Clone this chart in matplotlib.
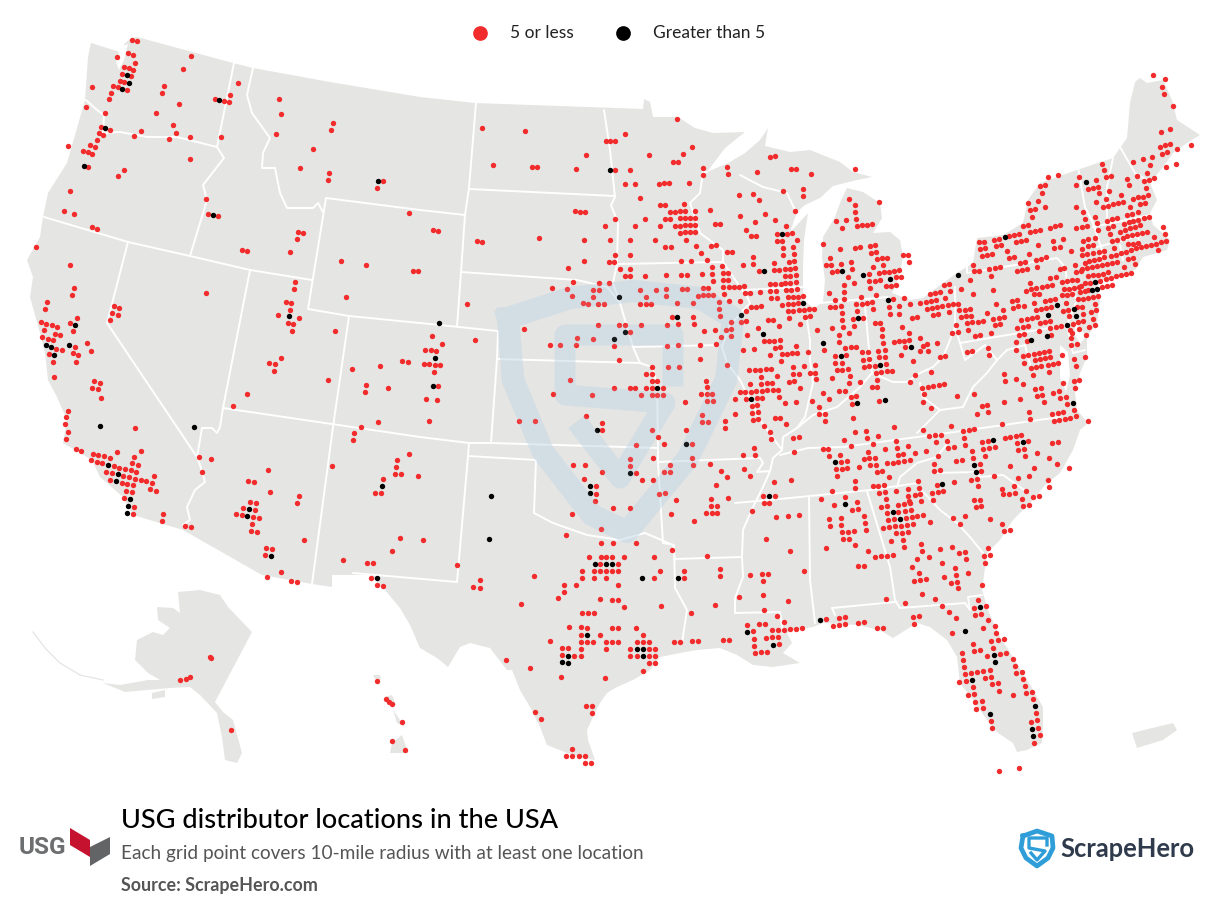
import matplotlib
matplotlib.use('Agg')
import matplotlib.pyplot as plt
from matplotlib.patches import Polygon

RED = '#f22c2c'
BLACK = '#000000'
LAND = '#e5e5e3'
FONT = 'Lato'

NW_ORIGIN = (20, 30)
NW_RED = [(337,31),(352,34),(292,82),(325,70),(340,76),(346,100),(313,112),(328,115),(340,121),(307,133),(334,139),(301,154),(313,157),(280,169),(295,172),(322,181),(274,190),(268,208),(217,172),(199,232),(256,250),(514,79),(490,118),(433,169),(427,190),(478,223),(409,250),(655,160),(631,196),(586,208),(613,214),(628,217),(778,208),(784,253),(940,280),(934,301),(769,313),(880,358),(841,415),(928,430),(925,451),(1090,454),(1072,475),(1168,550),(460,286),(469,310),(448,328),(511,322),(604,322),(364,304),(343,319),(271,301),(244,292),(238,310),(250,316),(232,331),(211,346),(226,352),(145,349),(190,364),(205,367),(217,373),(205,412),(313,421),(295,439),(511,388),(151,484),(133,544),(163,553),(217,592),(232,598),(559,508),(565,553),(595,559),(835,607),(850,610),(832,628),(667,661),(682,664),(811,667),(49,652),(151,706),(964,694),(1039,706),(1180,724),(1195,724),(826,757),(823,778),(163,775),(157,796),(559,790),(979,802)]
NW_BLACK = [(322,136),(328,160),(307,178),(598,211),(256,295),(193,409),(580,556),(1075,454)]

SW_ORIGIN = (20, 300)
SW_RED = [(82,7),(76,28),(799,7),(814,10),(283,19),(298,25),(277,40),(295,46),(271,61),(811,31),(775,46),(838,55),(805,70),(820,73),(817,94),(946,94),(64,67),(79,73),(97,76),(112,82),(73,91),(172,55),(151,70),(160,94),(106,103),(121,106),(67,112),(85,118),(100,121),(109,148),(127,151),(88,163),(100,187),(103,232),(202,130),(214,154),(166,142),(160,160),(175,166),(169,187),(223,244),(241,250),(217,265),(235,268),(244,295),(145,334),(139,352),(136,373),(145,397),(139,418),(346,385),(169,448),(184,454),(292,457),(364,454),(220,463),(235,466),(253,469),(271,475),(343,472),(214,481),(232,487),(247,490),(337,490),(355,496),(283,499),(298,505),(316,508),(334,511),(259,517),(277,520),(349,517),(310,529),(328,532),(271,541),(346,538),(364,541),(379,544),(403,529),(307,550),(322,553),(340,556),(397,550),(319,574),(337,577),(391,568),(409,574),(313,595),(343,622),(340,643),(430,643),(427,664),(538,472),(574,478),(547,517),(496,679),(514,682),(748,190),(766,193),(784,175),(763,214),(682,283),(640,319),(925,241),(997,208),(1081,199),(1147,184),(1165,187),(1039,256),(1036,277),(1105,265),(1075,367),(1024,382),(1003,400),(1000,421),(937,499),(1132,481),(1129,502),(1126,523),(1144,523),(1168,463),(1195,529),(1090,538),(1066,580),(1084,580),(745,511),(685,544),(703,547),(751,577),(838,589),(832,610),(691,607),(709,610),(670,625),(706,631),(649,643),(667,646),(700,652),(718,655),(697,673),(694,694),(712,697),(853,721),(739,745),(757,748),(736,766),(784,817),(742,832),(814,844),(832,847),(1141,715),(1117,754),(970,781),(1042,790),(1060,790),(1054,835),(1072,856),(1090,859)]
SW_BLACK = [(166,76),(79,136),(94,142),(148,136),(103,166),(241,379),(523,382),(265,496),(295,523),(289,544),(331,598),(325,619),(322,640),(808,49),(688,628),(682,649),(754,769),(1087,559),(1072,835)]

MIDWEST_ORIGIN = (420, 90)
MIDWEST_RED = [(772,88),(187,115),(316,124),(616,133),(559,154),(571,154),(586,154),(817,172),(499,196),(688,196),(790,193),(760,217),(775,217),(1051,202),(1066,199),(220,226),(337,232),(352,232),(469,238),(586,241),(631,241),(850,235),(922,232),(850,256),(925,253),(1012,247),(1114,238),(1129,238),(1174,253),(616,283),(646,283),(718,283),(733,280),(748,280),(808,280),(1090,304),(1150,298),(1150,319),(958,316),(1000,313),(1018,331),(661,325),(721,346),(736,346),(793,343),(871,361),(751,367),(766,367),(781,364),(796,364),(826,364),(466,364),(481,367),(496,367),(1126,364),(961,379),(1036,373),(586,388),(676,388),(736,388),(751,388),(781,385),(796,385),(811,385),(826,385),(1066,391),(1006,397),(886,403),(901,403),(556,409),(646,409),(721,409),(766,409),(781,409),(796,406),(811,406),(826,406),(1099,409),(979,421),(40,421),(55,424),(781,430),(796,427),(811,427),(826,427),(1072,433),(1102,433),(1117,430),(994,439),(1009,439),(358,445),(172,454),(187,457),(493,451),(571,451),(631,451),(706,451),(799,451),(1072,454),(1087,454),(1132,451),(829,469),(874,469),(889,466),(736,472),(754,472),(1090,475),(1120,472),(844,490),(922,487),(937,487),(586,496),(631,496),(1090,496),(1123,493),(1000,502),(493,514),(568,517),(583,517),(784,514),(814,514),(862,511),(1108,517),(1123,514),(1000,523),(970,526),(1063,520),(877,532),(907,529),(445,535),(601,538),(631,538),(1018,544),(1063,541),(1078,541),(1096,538),(1111,538),(1126,535),(616,559),(631,559),(676,559),(739,556),(784,556),(802,556),(847,553),(877,553),(910,550),(925,550),(1096,559),(1111,559),(1129,556),(880,574),(910,571),(925,571),(1096,580),(1111,580),(1129,577),(460,577),(538,580),(568,580),(1051,583),(1066,583),(1084,583),(397,595),(442,598),(520,601),(538,601),(661,601),(709,601),(739,598),(787,598),(802,598),(850,595),(865,595),(910,592),(928,592),(943,592),(958,592),(973,589),(1099,601),(1114,601),(1132,598),(1051,604),(1069,604),(913,613),(976,610),(991,610),(1021,607),(457,619),(520,622),(679,622),(739,619),(835,619),(850,616),(865,616),(880,616),(1054,625),(1072,625),(1105,622),(1120,622),(1135,622),(1150,619),(490,640),(505,643),(535,643),(553,643),(661,643),(679,643),(694,643),(772,640),(820,640),(898,637),(928,634),(961,634),(1105,643),(1120,643),(1135,640),(1087,646),(994,652),(1009,652),(1024,649),(142,643),(898,658),(1105,664),(1120,664),(1138,661),(1153,661),(1168,658),(1183,658),(757,682),(820,682),(901,679),(979,664),(1156,682),(1171,679),(1108,685),(1045,691),(1060,691),(979,694),(964,697),(934,697),(775,703),(823,703),(535,706),(598,706),(616,706),(664,706),(742,706),(1078,709),(1141,703),(1015,715),(919,721),(934,718),(853,724),(886,721),(313,718),(631,727),(166,751),(472,745),(520,748),(904,742),(934,739),(982,736),(1033,754),(1048,754),(1063,754),(1081,751),(67,763),(37,739),(16,781),(34,781),(49,784),(391,766),(421,766),(469,766),(583,769),(742,769),(775,766),(841,766),(889,763),(1129,769),(970,781),(1003,778),(1066,775),(1081,772),(1051,796),(1087,793),(1102,793),(1117,790),(1132,790),(1165,787),(598,811),(841,808),(1084,814),(13,823),(28,823),(46,826),(61,826),(922,826),(697,832),(745,832),(778,832),(1120,832),(1153,829),(988,841),(1006,841),(1021,841),(1039,838),(1054,838),(43,847),(679,853),(697,853),(1120,853),(1138,853),(1171,850),(1024,862),(1072,859)]
MIDWEST_BLACK = [(571,241),(1087,433),(1033,544),(598,622),(1150,640),(772,682),(964,676),(1030,733),(616,727),(583,748),(58,700),(46,805)]

SOUTH_ORIGIN = (420, 380)
SOUTH_RED = [(451,1),(859,3),(862,22),(991,13),(1024,13),(1042,10),(1057,10),(1108,7),(1123,4),(1141,25),(583,25),(631,25),(646,25),(679,25),(697,25),(730,25),(697,4),(712,4),(55,19),(400,43),(517,46),(664,46),(697,46),(712,46),(730,46),(844,43),(862,43),(877,43),(961,37),(976,37),(994,37),(1009,34),(1027,34),(1042,31),(1060,31),(1075,31),(19,58),(52,61),(979,58),(1012,55),(1027,55),(1078,52),(862,64),(880,64),(946,58),(796,67),(1096,70),(1129,67),(1177,64),(997,79),(1012,76),(997,100),(1015,97),(946,103),(847,106),(499,109),(1066,115),(1081,115),(1000,121),(1015,118),(28,124),(298,124),(346,124),(847,127),(865,127),(916,124),(547,130),(1099,133),(1033,139),(916,145),(547,151),(697,151),(799,151),(1051,157),(715,172),(1054,178),(1120,175),(1138,172),(649,196),(733,193),(817,193),(1003,205),(1123,217),(970,226),(1006,226),(631,238),(700,235),(817,235),(631,259),(460,256),(496,256),(751,256),(820,256),(871,253),(547,277),(649,280),(733,277),(751,277),(904,274),(973,268),(991,289),(922,292),(493,298),(667,301),(700,301),(1063,307),(1114,301),(889,316),(529,319),(529,343),(718,343),(736,340),(1030,349),(1066,349),(874,358),(925,355),(769,361),(526,364),(1033,370),(1048,370),(874,379),(892,379),(580,385),(631,385),(859,400),(877,400),(892,400),(997,394),(457,403),(754,403),(1069,412),(1105,409),(1138,406),(823,424),(544,448),(439,466),(1039,478),(544,490),(580,490),(649,490),(757,511),(1111,514),(508,532),(544,532),(559,532),(577,532),(613,532),(703,532),(862,529),(541,553),(595,553),(487,574),(523,574),(541,574),(559,574),(577,574),(595,574),(721,574),(793,574),(901,568),(1153,574),(343,589),(487,595),(523,595),(559,595),(703,595),(793,595),(901,589),(991,586),(1027,583),(1045,583),(1030,604),(181,601),(160,622),(181,625),(433,616),(469,616),(595,616),(433,637),(1030,646),(415,655),(958,652),(541,658),(577,661),(595,661),(1105,664),(304,673),(613,682),(724,679),(886,676),(1033,691),(487,700),(505,700),(523,700),(814,700),(1072,709),(1093,727),(982,736),(1018,733),(1036,733),(448,742),(484,742),(502,745),(577,745),(595,745),(649,745),(1000,754),(1057,751),(1075,751),(1093,751),(1111,748),(1129,748),(1147,745),(484,766),(541,766),(670,766),(1057,772),(1075,772),(1039,775),(1003,778),(391,784),(484,787),(502,787),(520,787),(559,787),(577,787),(595,787),(652,787),(670,787),(688,787),(763,787),(781,787),(817,784),(835,784),(910,781),(928,781),(1078,793),(1003,799),(427,805),(445,805),(484,808),(559,808),(631,808),(688,808),(706,808),(1006,820),(1024,817),(1042,817),(427,826),(463,829),(484,829),(631,829),(652,829),(688,829),(706,829),(259,841),(688,850),(706,850),(331,865),(670,874),(424,892),(556,895),(10,481),(112,556)]
SOUTH_BLACK = [(40,19),(712,25),(532,151),(799,193),(631,280),(511,319),(511,340),(214,349),(208,478),(1048,349),(526,553),(559,553),(577,553),(667,595),(775,595),(982,757),(1060,796),(502,766),(652,808),(670,808),(670,829),(445,829),(427,847),(445,850),(994,58)]

NORTHEAST_ORIGIN = (810, 60)
NORTHEAST_RED = [(1030,46),(1066,58),(1057,82),(1063,103),(1090,139),(1054,217),(1081,208),(1051,262),(1066,256),(1081,253),(1102,268),(1144,256),(1057,283),(1072,277),(970,307),(1000,298),(1027,292),(1021,316),(1099,313),(1069,322),(1012,340),(982,349),(1033,355),(1018,361),(1003,364),(952,358),(958,376),(1009,385),(136,328),(877,313),(883,331),(808,352),(889,352),(904,349),(859,361),(715,352),(745,346),(799,376),(691,379),(706,376),(835,388),(850,385),(865,382),(697,400),(898,394),(868,400),(934,406),(1015,406),(1000,412),(985,412),(970,418),(889,418),(859,427),(940,427),(925,430),(910,433),(895,439),(880,442),(655,430),(685,424),(706,442),(661,451),(676,448),(799,442),(1006,430),(991,433),(961,442),(820,457),(667,472),(118,418),(136,436),(208,427),(136,457),(139,478),(79,484),(109,481),(97,505),(142,499),(157,496),(172,496),(187,493),(1018,472),(1003,475),(985,457),(967,463),(952,466),(922,475),(907,478),(892,484),(856,472),(985,481),(970,484),(958,487),(943,493),(991,496),(976,502),(961,505),(946,511),(931,517),(910,499),(895,505),(862,490),(826,478),(799,505),(817,502),(832,499),(865,511),(901,523),(1060,502),(1066,523),(1012,517),(997,520),(982,523),(967,526),(952,529),(1033,532),(940,535),(922,541),(907,544),(1069,544),(1054,547),(1039,553),(1024,556),(1009,559),(994,562),(979,565),(1045,571),(985,550),(970,553),(955,553),(856,535),(835,538),(820,544),(850,556),(835,559),(817,568),(913,565),(883,574),(868,577),(850,580),(832,583),(817,586),(964,571),(949,577),(934,580),(919,586),(904,589),(970,595),(955,598),(976,613),(943,622),(964,640),(949,643),(934,646),(919,649),(904,655),(889,658),(871,664),(826,610),(838,604),(853,601),(868,598),(883,592),(907,610),(922,607),(892,613),(877,616),(862,619),(847,622),(832,625),(817,628),(835,649),(850,646),(865,646),(880,643),(895,637),(826,670),(841,670),(813,679),(826,694),(811,697),(835,691),(907,676),(892,679),(877,682),(820,718),(835,715),(850,712),(865,709),(655,496),(640,499),(721,505),(736,499),(751,496),(661,517),(676,514),(691,511),(628,523),(613,526),(598,529),(568,538),(553,541),(508,547),(523,547),(619,547),(634,544),(649,541),(730,544),(760,538),(511,568),(526,565),(559,559),(574,556),(685,556),(733,565),(751,562),(592,574),(784,574),(517,589),(532,586),(547,583),(658,583),(598,595),(613,592),(694,598),(679,601),(709,592),(490,616),(631,610),(646,607),(796,616),(682,622),(538,628),(556,625),(571,622),(751,628),(763,625),(493,634),(508,634),(622,634),(637,631),(652,628),(799,637),(814,634),(544,649),(481,661),(721,655),(739,652),(661,670),(757,667),(772,664),(787,661),(802,661),(40,553),(91,568),(136,565),(151,562),(181,559),(196,556),(184,580),(199,577),(61,595),(202,598),(217,595),(232,595),(280,586),(295,586),(49,616),(64,616),(94,613),(124,607),(220,616),(298,607),(127,628),(190,622),(67,637),(82,634),(208,640),(223,637),(238,637),(253,634),(268,631),(178,643),(115,652),(259,652),(274,652),(211,661),(196,664),(178,664),(133,670),(103,676),(229,679),(244,679),(259,676),(181,685),(103,697),(58,700),(199,706),(103,718),(76,721),(154,712),(139,733),(157,733),(172,730),(187,727),(250,718),(283,715),(61,742),(76,742),(94,739),(301,733),(331,730),(349,727),(364,724),(379,721),(361,703),(376,700),(391,697),(403,676),(418,673),(421,694),(406,715),(352,748),(367,745),(382,742),(397,739),(415,736),(430,733),(445,733),(238,742),(268,739),(190,748),(142,754),(241,763),(268,763),(418,757),(448,751),(466,751),(481,748),(370,766),(385,763),(307,775),(322,772),(97,760),(454,772),(469,769),(484,769),(130,778),(160,775),(97,781),(472,790),(487,787),(505,787),(520,784),(532,760),(580,751),(550,778),(568,775),(583,772),(439,796),(196,790),(211,790),(100,802),(133,799),(67,805),(22,811),(217,808),(277,802),(475,811),(559,733),(556,796),(571,793),(118,820),(298,820),(88,826),(217,829),(496,829),(511,826),(544,820),(427,820),(445,817),(88,847),(220,850),(253,847),(268,844),(283,844),(298,841),(331,835),(352,853),(382,850),(454,688),(490,703),(550,691),(649,694),(664,688),(679,685),(697,682),(712,679),(727,676),(763,688),(778,688),(793,685),(808,682),(673,703),(688,703),(673,730),(607,724),(622,721),(610,745),(625,739),(643,739),(679,751),(694,748),(709,745),(724,742),(706,724),(721,721),(736,718),(757,706),(772,706),(787,703),(769,730),(805,718),(817,742),(802,742),(856,733),(775,751),(760,754),(778,769),(820,763),(859,751),(844,757),(634,781),(652,778),(667,775),(682,772),(691,790),(706,787),(721,784),(655,799),(640,802),(622,805),(688,814),(721,805),(739,802),(754,799),(805,787),(820,784),(850,778),(856,796),(838,802),(808,808),(790,793),(781,811),(787,820),(829,826),(628,826),(643,823),(724,826),(784,835),(619,847),(652,844)]
NORTHEAST_BLACK = [(584,532),(829,367),(97,634),(160,646),(241,658),(445,646),(235,721),(145,775),(856,667),(847,691),(862,688),(742,736),(793,748),(715,766),(799,769),(772,796),(712,829),(664,841),(40,850)]

SOUTHEAST_ORIGIN = (780, 340)
SOUTHEAST_RED = [(133,31),(196,25),(214,22),(229,22),(166,49),(199,46),(247,37),(265,37),(295,34),(316,31),(376,22),(430,19),(445,34),(421,34),(364,46),(298,52),(316,52),(250,61),(268,58),(166,70),(187,70),(319,73),(400,64),(106,76),(253,82),(268,79),(286,79),(172,91),(187,91),(205,88),(289,100),(304,97),(322,94),(337,94),(106,100),(211,109),(157,115),(109,118),(406,106),(292,121),(208,130),(241,127),(391,127),(454,97),(481,52),(496,49),(562,37),(577,34),(628,46),(625,25),(709,31),(730,49),(745,46),(763,43),(778,40),(793,37),(808,34),(766,61),(781,58),(796,55),(811,52),(733,70),(754,85),(769,82),(784,79),(805,76),(820,73),(835,70),(847,46),(760,106),(808,97),(874,16),(892,13),(883,58),(916,52),(889,79),(673,103),(676,124),(709,118),(730,133),(850,130),(883,124),(898,121),(277,142),(292,142),(178,154),(196,154),(130,160),(427,145),(445,142),(460,139),(478,136),(493,133),(766,148),(784,145),(838,154),(820,160),(886,145),(214,172),(229,169),(148,178),(532,169),(583,163),(772,169),(787,166),(841,175),(859,172),(433,163),(430,187),(298,184),(721,178),(673,187),(793,187),(862,193),(217,193),(118,202),(607,199),(622,196),(454,205),(883,211),(592,223),(625,217),(748,217),(817,223),(835,220),(850,217),(889,229),(118,223),(136,223),(220,235),(751,238),(823,244),(838,241),(856,238),(871,235),(136,244),(925,244),(667,253),(343,262),(514,259),(430,271),(226,277),(259,274),(550,274),(568,271),(583,268),(448,289),(466,286),(484,286),(262,295),(295,289),(553,295),(676,295),(691,292),(709,289),(724,286),(193,301),(349,304),(607,307),(625,304),(745,304),(469,307),(502,304),(835,307),(817,310),(214,319),(280,313),(556,316),(712,310),(385,319),(352,325),(505,325),(523,322),(610,328),(628,325),(646,322),(715,331),(733,328),(130,328),(145,328),(316,328),(265,337),(439,334),(577,334),(406,340),(355,346),(370,343),(736,349),(616,349),(772,340),(181,346),(148,349),(268,355),(253,358),(286,355),(475,349),(580,355),(808,355),(202,364),(184,367),(391,361),(373,364),(355,367),(340,370),(322,370),(529,364),(547,361),(271,376),(289,376),(463,373),(601,373),(832,373),(238,382),(169,388),(187,388),(202,385),(691,379),(763,385),(868,385),(463,394),(481,391),(292,397),(307,394),(604,394),(172,409),(328,412),(643,409),(574,421),(592,418),(715,415),(748,409),(805,421),(226,424),(415,424),(523,427),(472,436),(595,439),(280,439),(295,439),(313,436),(226,445),(418,445),(385,448),(667,448),(703,439),(808,442),(157,454),(349,454),(298,460),(316,457),(475,457),(490,454),(457,460),(739,454),(385,469),(406,466),(421,463),(670,463),(688,463),(706,460),(196,472),(124,478),(388,484),(424,484),(460,481),(319,478),(583,481),(601,481),(727,478),(760,472),(778,469),(232,487),(163,496),(322,499),(355,496),(373,493),(391,490),(730,499),(748,496),(589,502),(604,499),(217,511),(235,508),(304,502),(355,517),(376,514),(394,511),(322,520),(253,529),(412,529),(430,526),(556,529),(520,535),(184,535),(148,538),(325,541),(343,538),(379,535),(397,532),(631,538),(451,547),(667,553),(256,550),(184,556),(151,559),(541,553),(328,562),(346,559),(364,559),(382,556),(400,553),(310,565),(259,571),(673,574),(691,571),(187,577),(205,577),(223,574),(349,580),(367,580),(385,577),(190,598),(208,598),(334,604),(370,601),(424,613),(226,616),(139,625),(373,622),(517,622),(481,628),(625,625),(265,634),(427,634),(538,640),(556,637),(613,649),(631,646),(286,652),(304,649),(322,649),(340,646),(448,652),(412,658),(559,658),(487,670),(616,670),(235,679),(253,679),(397,682),(526,685),(418,700),(565,700),(529,706),(493,712),(439,718),(403,724),(421,721),(514,730),(532,727),(607,736),(535,745)]
SOUTHEAST_BLACK = [(184,49),(301,76),(232,190),(316,181),(394,22),(640,301),(730,307),(166,367),(583,376),(589,397),(487,433),(880,190),(196,493),(340,517),(361,538)]

FLORIDA_ORIGIN = (780, 580)
FLORIDA_RED = [(427,43),(466,58),(319,58),(376,70),(595,61),(487,79),(619,79),(583,85),(508,97),(586,106),(604,103),(139,118),(178,115),(196,112),(400,112),(418,109),(529,115),(625,121),(235,130),(253,127),(178,136),(196,133),(160,139),(403,133),(292,145),(310,145),(646,139),(610,145),(517,160),(649,160),(673,178),(655,181),(634,184),(580,193),(640,205),(583,214),(601,211),(547,220),(679,220),(661,223),(622,229),(700,238),(550,241),(706,259),(553,262),(631,271),(610,274),(592,277),(574,280),(556,283),(727,277),(709,280),(634,292),(616,295),(730,298),(538,307),(559,304),(655,310),(637,313),(580,322),(736,319),(658,334),(757,337),(739,340),(565,346),(583,343),(700,346),(760,358),(586,367),(607,364),(589,388),(610,385),(769,400),(634,424),(772,421),(754,427),(637,445),(775,445),(781,466),(763,490),(718,565),(658,574)]
FLORIDA_BLACK = [(601,82),(121,121),(556,154),(643,226),(646,247),(577,301),(766,379),(631,403),(757,448),(760,469)]

OUTLYING_ORIGIN = (20, 580)
OUTLYING_RED = [(571,232),(574,235),(481,301),(499,298),(511,292),(634,451),(1072,304),(1099,358),(1108,367),(1117,373),(1147,427),(1117,484),(1156,511)]

TEXAS_ORIGIN = (420, 670)
TEXAS_RED = [(499,109),(517,109),(517,130),(346,127),(364,148),(457,238),(439,259),(457,259),(478,259),(496,259),(496,280),(514,280)]

RED_BLOCKS = [(NW_ORIGIN, NW_RED), (SW_ORIGIN, SW_RED), (MIDWEST_ORIGIN, MIDWEST_RED),
              (SOUTH_ORIGIN, SOUTH_RED), (NORTHEAST_ORIGIN, NORTHEAST_RED),
              (SOUTHEAST_ORIGIN, SOUTHEAST_RED), (FLORIDA_ORIGIN, FLORIDA_RED),
              (OUTLYING_ORIGIN, OUTLYING_RED), (TEXAS_ORIGIN, TEXAS_RED)]
BLACK_BLOCKS = [(NW_ORIGIN, NW_BLACK), (SW_ORIGIN, SW_BLACK), (MIDWEST_ORIGIN, MIDWEST_BLACK),
                (SOUTH_ORIGIN, SOUTH_BLACK), (NORTHEAST_ORIGIN, NORTHEAST_BLACK),
                (SOUTHEAST_ORIGIN, SOUTHEAST_BLACK), (FLORIDA_ORIGIN, FLORIDA_BLACK)]

# Land shapes in map coordinates
LOWER48 = [(91,43),(120,52),(125,43),(132,38),(137,37),(233,63),(253,68),(330,82),(420,97),(475,103),(643,109),(644,99),(650,102),(653,117),(678,117),(695,128),(713,133),(745,132),(725,148),(707,172),(728,163),(745,153),(760,140),(768,128),(765,146),(790,152),(810,150),(840,162),(853,172),(872,177),(857,180),(833,186),(820,198),(805,205),(797,212),(790,232),(797,225),(808,213),(804,240),(803,265),(803,290),(803,300),(814,308),(823,302),(825,280),(822,257),(823,237),(835,217),(840,203),(847,188),(863,192),(880,203),(882,218),(873,233),(890,232),(900,240),(903,257),(900,273),(895,287),(892,293),(910,300),(923,298),(943,283),(957,273),(973,263),(975,250),(977,238),(1003,235),(1023,223),(1028,200),(1040,183),(1077,170),(1113,158),(1127,138),(1130,103),(1135,82),(1140,78),(1147,83),(1163,80),(1172,100),(1177,120),(1200,135),(1187,143),(1173,153),(1163,167),(1150,183),(1157,200),(1150,213),(1153,225),(1165,235),(1170,240),(1167,250),(1143,257),(1135,270),(1103,280),(1097,287),(1100,300),(1097,323),(1087,337),(1087,357),(1080,373),(1075,392),(1077,410),(1088,423),(1080,430),(1073,450),(1060,473),(1045,485),(1033,500),(1013,520),(1000,540),(987,553),(983,583),(982,590),(988,610),(1000,637),(1013,657),(1027,680),(1043,707),(1043,727),(1042,743),(1027,750),(1017,752),(1013,743),(998,733),(987,720),(973,700),(960,683),(957,657),(947,640),(930,627),(917,623),(893,638),(880,630),(857,625),(823,623),(813,627),(793,630),(787,633),(792,643),(783,653),(800,663),(773,667),(753,665),(737,655),(720,648),(697,650),(680,653),(660,657),(650,670),(633,680),(617,687),(607,693),(600,703),(593,717),(587,730),(588,740),(595,760),(583,758),(567,753),(547,745),(540,727),(530,707),(520,690),(512,670),(507,670),(490,648),(470,643),(460,647),(448,667),(437,658),(420,648),(410,625),(400,608),(385,590),(370,575),(332,575),(332,587),(312,584),(262,575),(183,530),(133,515),(123,497),(100,477),(92,460),(63,443),(67,420),(57,397),(48,380),(45,353),(40,333),(30,297),(33,277),(27,260),(40,237),(43,217),(48,193),(67,163),(85,100),(88,57)]
ALASKA = [(178,592),(200,590),(220,595),(228,607),(252,632),(215,702),(223,712),(233,720),(242,753),(237,763),(225,760),(222,737),(217,713),(200,695),(190,687),(170,688),(147,690),(125,692),(103,683),(120,685),(148,680),(160,680),(148,673),(135,660),(137,640),(153,632),(163,635),(170,628),(158,620),(157,607),(173,608),(180,613)]
KODIAK = [(152,693),(165,690),(165,697),(152,699)]
KAUAI = [(373,675),(380,675),(381,680),(375,679)]
OAHU = [(385,697),(392,695),(396,705),(388,705)]
MAUI = [(393,710),(405,727),(397,723)]
BIG_ISLAND = [(402,735),(408,753),(390,753),(392,743)]
PUERTO_RICO = [(1132,733),(1173,723),(1177,730),(1163,740),(1137,748)]
LAND_SHAPES = [LOWER48, ALASKA, KODIAK, KAUAI, OAHU, MAUI, BIG_ISLAND, PUERTO_RICO]
ALEUTIANS = [(33,632),(45,648),(60,663),(80,675),(103,680)]
CHESAPEAKE = [(1060,345),(1068,352),(1070,375),(1066,392),(1060,378)]
DELAWARE_BAY = [(1075,322),(1086,336),(1080,344),(1075,335)]
PUGET_SOUND = [(120,47),(128,44),(124,60),(119,70),(116,62)]

# State lines in map coordinates
BORDERS = [
    [(86,100),(97,110),(104,115),(103,133),(120,132),(147,137),(177,137),(217,147)],
    [(234,63),(217,147),(224,158),(203,185),(207,200),(190,256)],
    [(44,217),(128,242),(190,256),(250,270),(312,280)],
    [(253,68),(247,95),(252,113),(270,138),(263,153),(262,168),(275,168),(280,193),(287,208),(313,208),(318,203),(323,212)],
    [(326,198),(308,309),(349,316),(420,323),(498,331),(497,359),(491,443)],
    [(326,198),(420,210),(465,215)],
    [(476,103),(469,188),(465,215),(461,272),(457,327)],
    [(128,242),(107,323),(197,457)],
    [(250,270),(223,408),(220,427),(217,433),(212,428),(202,428),(197,457),(200,465),(205,482),(195,490),(187,507),(190,520),(183,525)],
    [(223,408),(420,437),(469,443),(491,443),(658,448)],
    [(349,316),(333,427),(312,584)],
    [(469,443),(468,456),(536,460),(534,513),(553,523),(587,535),(620,540),(645,533),(673,545),(675,560)],
    [(468,456),(457,582),(353,573)],
    [(469,189),(615,196)],
    [(461,272),(577,280),(607,287),(620,303),(633,347),(640,363),(497,359)],
    [(604,110),(610,150),(615,197),(611,205),(618,223),(617,264),(613,283),(620,303)],
    [(617,264),(723,262)],
    [(633,347),(720,345)],
    [(640,363),(652,367),(657,383),(658,448),(658,462),(663,543),(674,545),(675,588),(687,610),(682,643)],
    [(658,462),(760,458),(763,463),(757,472),(770,471)],
    [(707,172),(703,172),(700,193),(690,203),(700,233),(723,250),(723,262),(747,297),(750,303),(730,325),(722,347),(727,363),(740,380),(760,420),(782,450),(773,458),(770,471),(763,487),(753,507),(743,530),(742,557),(743,577),(735,598),(735,613),(780,612),(783,633)],
    [(674,559),(742,557)],
    [(740,175),(763,187),(787,193),(795,210)],
    [(745,290),(803,287)],
    [(807,320),(810,340),(810,360),(813,383),(805,417),(797,428)],
    [(820,303),(888,297)],
    [(865,307),(870,360),(872,373)],
    [(782,450),(783,437),(797,428),(813,415),(837,407),(860,387),(872,373),(893,382),(907,382),(920,373),(933,367),(943,357),(950,340),(955,327),(955,287)],
    [(955,327),(960,343),(1067,325)],
    [(967,273),(1057,258),(1065,267),(1067,280),(1077,300),(1067,325)],
    [(967,262),(967,273)],
    [(1067,325),(1073,353),(1085,350)],
    [(960,343),(965,360),(985,345),(997,360),(1007,350),(1025,345),(1030,365)],
    [(997,360),(987,373),(973,387),(963,407),(940,410),(923,397),(920,383)],
    [(940,410),(917,433)],
    [(780,455),(808,448),(843,447),(917,437),(947,433),(1060,417)],
    [(735,503),(780,499),(870,490),(918,483)],
    [(950,440),(937,457),(917,463),(900,477),(897,487)],
    [(935,473),(977,472),(980,477),(1003,475),(1027,492)],
    [(918,487),(928,497),(940,510),(957,523),(970,537),(983,553)],
    [(867,491),(890,567),(895,600),(900,608),(965,603),(970,610),(968,597),(982,595)],
    [(809,497),(810,580),(815,623)],
    [(832,608),(895,602)],
    [(832,608),(835,615)],
    [(1120,147),(1135,173),(1147,180)],
    [(1113,158),(1107,187),(1107,220)],
    [(1078,167),(1085,207),(1093,223),(1102,250),(1100,263)],
    [(1093,227),(1150,215)],
    [(1097,247),(1143,235)],
    [(1138,235),(1140,250)],
    [(1120,245),(1123,260)],
]

# Faded shield watermark
SHIELD_OUTER = [(508,318),(570,298),(633,291),(700,298),(733,318),(726,380),(688,458),(627,532),(592,515),(543,452),(513,380),(508,318)]
SHIELD_INNER = [(673,376),(673,335),(565,335),(565,395),(665,403),(620,478),(583,430)]

# ScrapeHero logo and USG logo shapes
SH_SHIELD = [(1023,836),(1037,831),(1052,836),(1053,848),(1048,858),(1037,866),(1026,858),(1021,848),(1023,836)]
SH_S = [(1047,845),(1047,838),(1029,838),(1029,848),(1045,851),(1037,860),(1031,853)]
USG_RED = [(70,828),(90,840),(90,857),(70,845)]
USG_GREY = [(90,847),(110,837),(110,854),(90,866)]


def plot_points(ax, blocks, color):
    xs, ys = [], []
    for origin, points in blocks:
        for x, y in points:
            xs.append(origin[0] + x / 3)
            ys.append(origin[1] + y / 3)
    ax.scatter(xs, ys, s=15, color=color, linewidths=0, zorder=3)


def main():
    plt.rcParams['font.family'] = [FONT, 'DejaVu Sans']
    fig = plt.figure(figsize=(12.24, 9.02), dpi=100)
    ax = fig.add_axes([0, 0, 1, 1])
    ax.set_xlim(0, 1224)
    ax.set_ylim(902, 0)
    ax.axis('off')

    for shape in LAND_SHAPES:
        ax.add_patch(Polygon(shape, closed=True, facecolor=LAND, edgecolor='none', zorder=1))
    ax.plot(*zip(*ALEUTIANS), color=LAND, lw=0.9, zorder=1)
    for water in (CHESAPEAKE, DELAWARE_BAY, PUGET_SOUND):
        ax.add_patch(Polygon(water, closed=True, facecolor='white', edgecolor='none', zorder=1.2))
    for border in BORDERS:
        ax.plot(*zip(*border), color='white', lw=1.4, solid_capstyle='round', zorder=2)

    # watermark goes under the points, a faint second pass mutes the dots a little
    for path, width in ((SHIELD_OUTER, 16), (SHIELD_INNER, 15)):
        ax.plot(*zip(*path), color='#c4d8e6', lw=width, alpha=0.45, solid_joinstyle='round', zorder=2.5)
        ax.plot(*zip(*path), color='#c4d8e6', lw=width, alpha=0.12, solid_joinstyle='round', zorder=4)

    plot_points(ax, RED_BLOCKS, RED)
    plot_points(ax, BLACK_BLOCKS, BLACK)

    # legend
    ax.scatter([480], [32.5], s=112, color=RED, linewidths=0, zorder=5)
    ax.scatter([623], [32.5], s=112, color=BLACK, linewidths=0, zorder=5)
    ax.text(510, 32.5, '5 or less', fontsize=12.5, color='#222222', va='center')
    ax.text(653, 32.5, 'Greater than 5', fontsize=12.5, color='#222222', va='center')

    # title block
    ax.text(121, 821, 'USG distributor locations in the USA', fontsize=19.5, fontweight='medium', color='#000000', va='center')
    ax.text(121, 853, 'Each grid point covers 10-mile radius with at least one location', fontsize=13.7, color='#555555', va='center')
    ax.text(121, 885, 'Source: ScrapeHero.com', fontsize=12.9, fontweight='bold', color='#555555', va='center')

    # logos
    ax.text(19, 847, 'USG', fontsize=17.5, fontweight='bold', color='#6d6e70', va='center',
            family=['Liberation Sans Narrow', 'Roboto'])
    ax.add_patch(Polygon(USG_RED, closed=True, facecolor='#c4122f', edgecolor='none'))
    ax.add_patch(Polygon(USG_GREY, closed=True, facecolor='#636466', edgecolor='none'))
    ax.plot(*zip(*SH_SHIELD), color='#2f9ed8', lw=3.4, solid_joinstyle='round')
    ax.plot(*zip(*SH_S), color='#2f9ed8', lw=2.4, solid_joinstyle='round')
    ax.text(1060, 849, 'ScrapeHero', fontsize=18.4, fontweight='bold', color='#2f3b4c', va='center')

    fig.savefig('out.png', dpi=100)


main()
